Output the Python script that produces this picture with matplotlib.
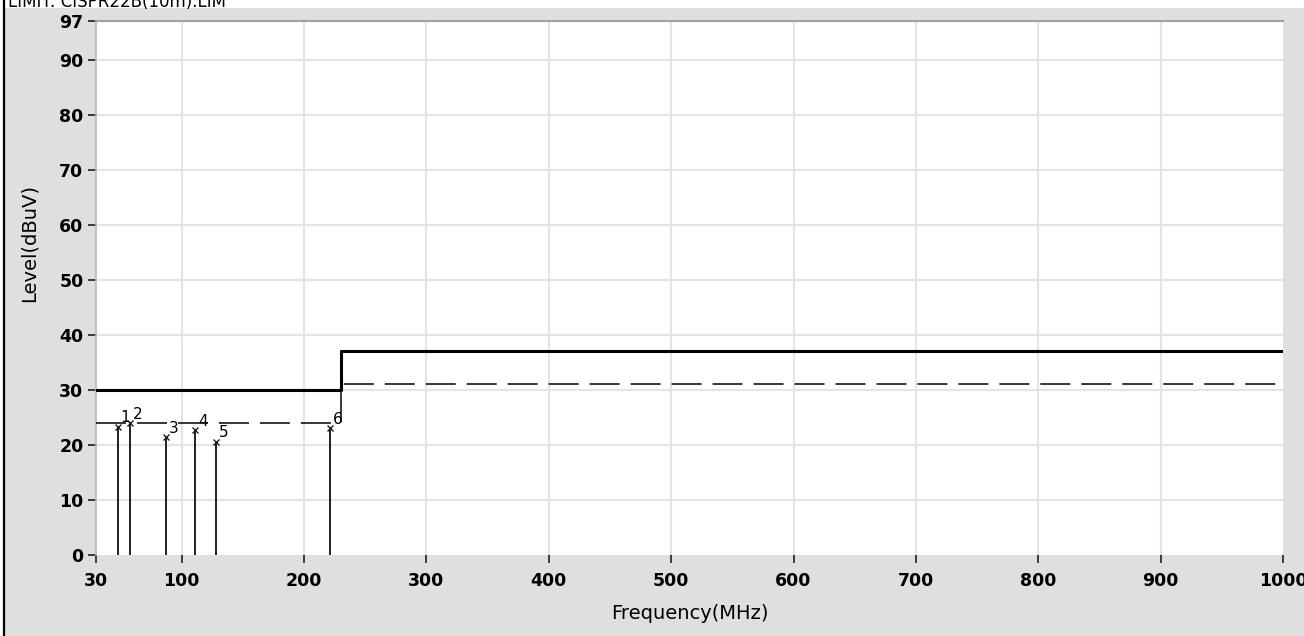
import matplotlib
matplotlib.use("Agg")
import matplotlib.pyplot as plt
import numpy as np

# limit line (CISPR22 class B, 10m) and the -6 dB margin line
limit_freq = [30, 230, 1000]
limit_level = [30, 37, 37]
margin_level = [24, 31, 31]

# measured peaks
peak_no = ['1', '2', '3', '4', '5', '6']
peak_freq = [48.0, 57.8, 87.2, 110.9, 127.8, 221.2]
peak_level = [23.3, 23.9, 21.4, 22.7, 20.6, 23.0]

x_ticks = [30, 100, 200, 300, 400, 500, 600, 700, 800, 900, 1000]
y_ticks = [0, 10, 20, 30, 40, 50, 60, 70, 80, 90, 97]

W, H = 1304, 636
plt.rcParams['lines.scale_dashes'] = False
fig = plt.figure(figsize=(W / 100, H / 100), dpi=100, facecolor='white')

# grey panel with black left border
fig.patches.append(plt.Rectangle((5 / W, 0), 1, 1 - 8 / H, transform=fig.transFigure,
                                 facecolor='#dfdfdf', edgecolor='none', zorder=-5))
fig.add_artist(plt.Line2D([4 / W, 4 / W], [0, 1], transform=fig.transFigure,
                          color='black', lw=1.6, zorder=-4))
fig.text(8 / W, 1 - 7 / H, 'LIMIT: CISPR22B(10m).LIM', fontsize=12,
         va='baseline', ha='left', color='black')

ax = fig.add_axes([96 / W, 1 - 555 / H, (1283 - 96) / W, (555 - 21) / H])
ax.set_zorder(2)
ax.set_facecolor('white')
ax.set_xlim(30, 1000)
ax.set_ylim(0, 97)

ax.set_xticks(x_ticks)
ax.set_yticks(y_ticks)
ax.set_xticklabels([str(v) for v in x_ticks], fontsize=12.5, fontweight='bold')
ax.set_yticklabels([str(v) for v in y_ticks], fontsize=12.5, fontweight='bold')
ax.tick_params(axis='both', length=6, width=1.2, color='#202020', pad=3)
ax.tick_params(axis='x', pad=6)

for v in x_ticks[1:-1]:
    ax.axvline(v, color='#e4e4e4', lw=1.5, zorder=0)
for v in y_ticks[1:-1]:
    ax.axhline(v, color='#e4e4e4', lw=1.5, zorder=0)

for s in ['right', 'bottom']:
    ax.spines[s].set_visible(False)
ax.spines['left'].set_color('#b8b8b8')
ax.spines['left'].set_linewidth(1.2)
ax.spines['top'].set_color('#a0a0a0')
ax.spines['top'].set_linewidth(1.5)

ax.plot(limit_freq, limit_level, drawstyle='steps-post', color='black', lw=2.2, zorder=3)
ax.plot(limit_freq, margin_level, drawstyle='steps-post', color='black', lw=1.1,
        dashes=(21.6, 7.9), zorder=3)

ax.vlines(peak_freq, 0, peak_level, color='#202020', lw=1.4, zorder=4)
ax.plot(peak_freq, peak_level, 'x', color='#202020', ms=5, mew=1.0, zorder=5)
for n, f, l in zip(peak_no, peak_freq, peak_level):
    ax.annotate(n, (f, l), xytext=(2, 1), textcoords='offset points',
                fontsize=11, color='black', ha='left', va='bottom', zorder=6)

ax.set_xlabel('Frequency(MHz)', fontsize=14, labelpad=10)
ax.set_ylabel('Level(dBuV)', fontsize=14)
ax.yaxis.set_label_coords(-0.048, 0.585)

fig.savefig('out.png', dpi=100, facecolor=fig.get_facecolor())
